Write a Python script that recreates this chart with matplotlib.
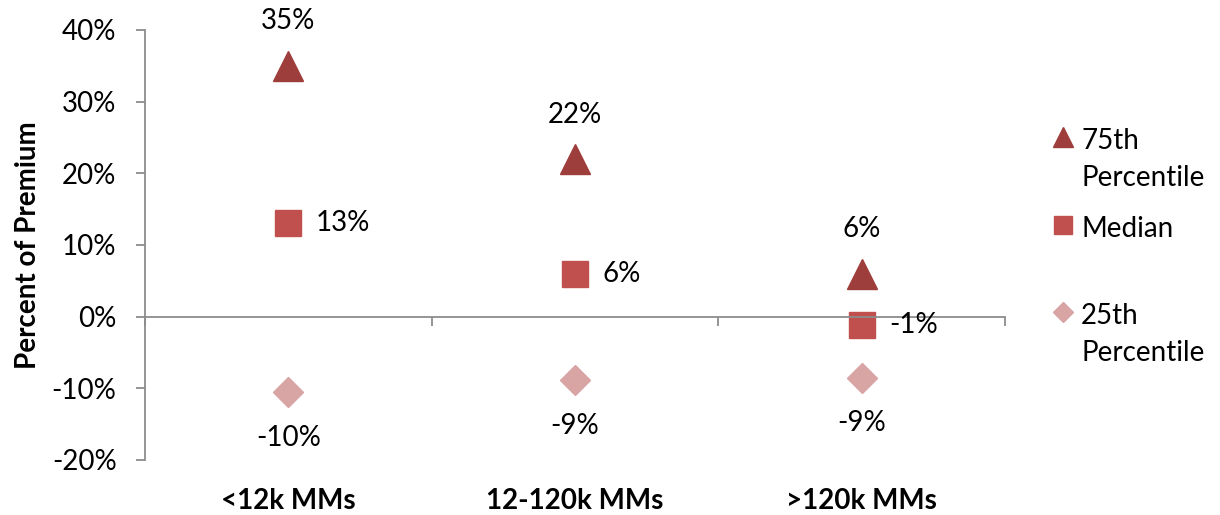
import matplotlib.pyplot as plt
import numpy as np
from matplotlib.legend_handler import HandlerLine2D

plt.rcParams['font.family'] = ['Lato', 'DejaVu Sans']

categories = ['<12k MMs', '12-120k MMs', '>120k MMs']
p75 = [35, 22, 6]
median = [13, 6, -1.1]
p25 = [-10.5, -8.8, -8.5]
p75_labels = ['35%', '22%', '6%']
median_labels = ['13%', '6%', '-1%']
p25_labels = ['-10%', '-9%', '-9%']

x = np.arange(len(categories)) + 0.5
fs = 20
line_sp = 1.5
key_shift = 16.5  # points, lifts legend key to first label line


# legend key sits on the first line of a two-line label (like Excel)
class FirstLineHandler(HandlerLine2D):
    def create_artists(self, legend, orig_handle, xdescent, ydescent, width, height, fontsize, trans):
        artists = super().create_artists(legend, orig_handle, xdescent, ydescent,
                                         width, height, fontsize, trans)
        for a in artists:
            a.set_ydata(np.asarray(a.get_ydata()) + key_shift)
        return artists


fig = plt.figure(figsize=(12.2, 5.15), dpi=100)
ax = fig.add_axes([0.1189, 0.1068, 0.705, 0.835])

ax.plot(x, p75, '^', color='#9E3E3C', markersize=21, label='75th\nPercentile', clip_on=False)
ax.plot(x, median, 's', color='#C0504D', markersize=19, label='Median\n ', clip_on=False)
ax.plot(x, p25, 'D', color='#D9A5A4', markersize=15, label='25th\nPercentile', clip_on=False)

for xi, v, t in zip(x, p75, p75_labels):
    ax.annotate(t, (xi, v), xytext=(0, 32), textcoords='offset points',
                ha='center', va='center', fontsize=fs)
for xi, v, t in zip(x, median, median_labels):
    ax.annotate(t, (xi, v), xytext=(20, 0), textcoords='offset points',
                ha='left', va='center', fontsize=fs)
for xi, v, t in zip(x, p25, p25_labels):
    ax.annotate(t, (xi, v), xytext=(0, -33), textcoords='offset points',
                ha='center', va='center', fontsize=fs)

ax.set_xlim(0, 3)
ax.set_ylim(-20, 40)
ax.set_yticks(np.arange(-20, 41, 10))
ax.set_yticklabels([f'{v}%' for v in range(-20, 41, 10)], fontsize=fs)
ax.set_ylabel('Percent of Premium', fontsize=fs, fontweight='bold', labelpad=8)

ax.spines['top'].set_visible(False)
ax.spines['right'].set_visible(False)
ax.spines['bottom'].set_position(('data', 0))
for s in ['left', 'bottom']:
    ax.spines[s].set_color('#8c8c8c')
    ax.spines[s].set_linewidth(1.3)
ax.set_xticks([0, 1, 2, 3])
ax.set_xticklabels([])
ax.tick_params(axis='both', color='#8c8c8c', width=1.3, length=6.5)
ax.tick_params(axis='y', pad=14)

for xi, c in zip(x, categories):
    ax.text(xi, -0.095, c, transform=ax.get_xaxis_transform(), ha='center',
            va='center', fontsize=fs, fontweight='bold')

leg = ax.legend(loc='center left', bbox_to_anchor=(1.04, 0.495), frameon=False, fontsize=fs,
                handletextpad=0.2, labelspacing=0.9, borderaxespad=0, handlelength=0.9,
                markerscale=0.7, handler_map={plt.Line2D: FirstLineHandler()})
for t in leg.get_texts():
    t.set_linespacing(line_sp)

fig.savefig('out.png', dpi=100)
